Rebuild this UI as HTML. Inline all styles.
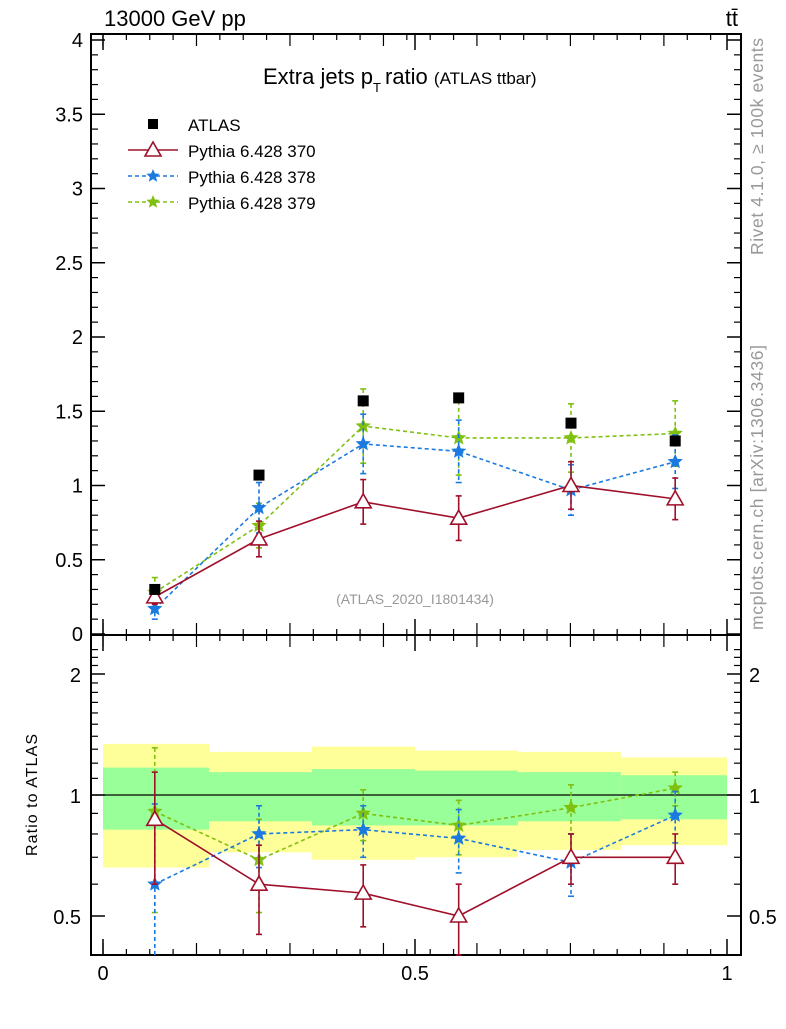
<!DOCTYPE html>
<html><head><meta charset="utf-8"><style>
body{margin:0;background:#fff;}
svg text{font-family:"Liberation Sans",sans-serif;}
</style></head><body>
<svg id="c" width="786" height="1024" xmlns="http://www.w3.org/2000/svg"></svg>
<script>
const categories=[0.083,0.25,0.417,0.57,0.75,0.917];
const binEdges=[0,0.17,0.335,0.5,0.665,0.83,1];
const atlas=[0.30,1.07,1.57,1.59,1.42,1.30];
const s370=[0.25,0.64,0.89,0.78,1.00,0.91];
const e370=[0.05,0.12,0.15,0.15,0.16,0.14];
const s378=[0.17,0.85,1.28,1.23,0.97,1.16];
const e378=[0.07,0.17,0.20,0.21,0.17,0.18];
const s379=[0.28,0.73,1.40,1.32,1.32,1.35];
const e379=[0.10,0.15,0.25,0.25,0.23,0.22];
const r370=[0.87,0.60,0.57,0.50,0.70,0.70];
const re370=[0.27,0.15,0.10,0.10,0.10,0.10];
const r378=[0.60,0.80,0.82,0.78,0.68,0.89];
const re378=[0.35,0.14,0.12,0.14,0.12,0.13];
const r379=[0.91,0.69,0.90,0.84,0.93,1.04];
const re379=[0.40,0.18,0.13,0.13,0.13,0.10];
const yelHi=[1.34,1.28,1.32,1.29,1.28,1.24];
const yelLo=[0.66,0.72,0.69,0.70,0.73,0.75];
const grnHi=[1.17,1.14,1.16,1.15,1.14,1.12];
const grnLo=[0.82,0.86,0.84,0.84,0.86,0.87];
const yTicks=[0,0.5,1,1.5,2,2.5,3,3.5,4];
const yTickLabels=["0","0.5","1","1.5","2","2.5","3","3.5","4"];
const rTicks=[0.5,1,2];
const xTicks=[0,0.5,1];

const svg=document.getElementById('c');
const NS='http://www.w3.org/2000/svg';
const L=91,R=741,T=34,M=635,B=955;
const X=v=>103+624*v;
const Y=v=>634-148.5*v;
const RY=v=>795-121*Math.log2(v);
function el(t,a,p){const e=document.createElementNS(NS,t);for(const k in a)e.setAttribute(k,a[k]);(p||svg).appendChild(e);return e;}
function txt(x,y,s,a){const e=el('text',Object.assign({x:x,y:y},a||{}));e.textContent=s;return e;}

for(let i=0;i<6;i++){
 const b=el('rect',{x:X(binEdges[i]),y:RY(yelHi[i]),width:X(binEdges[i+1])-X(binEdges[i]),height:RY(yelLo[i])-RY(yelHi[i]),fill:'#ffff99'});
 
 
 const g=el('rect',{x:X(binEdges[i]),y:RY(grnHi[i]),width:X(binEdges[i+1])-X(binEdges[i]),height:RY(grnLo[i])-RY(grnHi[i]),fill:'#99ff99'});
 
 
}
el('line',{x1:L,x2:R,y1:RY(1),y2:RY(1),stroke:'#000','stroke-width':1.2});

el('rect',{x:L,y:T,width:R-L,height:M-T,fill:'none',stroke:'#000','stroke-width':2});
el('rect',{x:L,y:M,width:R-L,height:B-M,fill:'none',stroke:'#000','stroke-width':2});

yTicks.forEach((v,i)=>{
 el('line',{x1:L,x2:L+14,y1:Y(v),y2:Y(v),stroke:'#000','stroke-width':1.5});
 el('line',{x1:R,x2:R-14,y1:Y(v),y2:Y(v),stroke:'#000','stroke-width':1.5});
 const t=txt(L-8,Y(v)+7,yTickLabels[i],{'font-size':20,'text-anchor':'end'});
 
 
});
for(let v=0.1;v<4;v+=0.1){if(Math.abs(v*2-Math.round(v*2))<0.01)continue;
 el('line',{x1:L,x2:L+7,y1:Y(v),y2:Y(v),stroke:'#000','stroke-width':1.2});
 el('line',{x1:R,x2:R-7,y1:Y(v),y2:Y(v),stroke:'#000','stroke-width':1.2});}
rTicks.forEach(v=>{
 el('line',{x1:L,x2:L+14,y1:RY(v),y2:RY(v),stroke:'#000','stroke-width':1.5});
 el('line',{x1:R,x2:R-14,y1:RY(v),y2:RY(v),stroke:'#000','stroke-width':1.5});
 txt(L-10,RY(v)+8,String(v),{'font-size':20,'text-anchor':'end'});
 txt(R+8,RY(v)+8,String(v),{'font-size':20});
});
[0.4,0.6,0.7,0.8,0.9,1.1,1.2,1.3,1.4,1.5,1.6,1.7,1.8,1.9,2.1,2.2,2.3].forEach(v=>{
 if(RY(v)<M||RY(v)>B)return;
 el('line',{x1:L,x2:L+7,y1:RY(v),y2:RY(v),stroke:'#000','stroke-width':1.2});
 el('line',{x1:R,x2:R-7,y1:RY(v),y2:RY(v),stroke:'#000','stroke-width':1.2});});
for(let k=0;k<=27;k++){const v=k/26.7;if(v>1.01)break;const x=X(v);
 const len=(k%4==0)?12:6;
 [T,M].forEach(y0=>el('line',{x1:x,x2:x,y1:y0,y2:y0+len,stroke:'#000','stroke-width':1.2}));
 [M,B].forEach(y0=>el('line',{x1:x,x2:x,y1:y0,y2:y0-len,stroke:'#000','stroke-width':1.2}));}
xTicks.forEach(v=>{
 [T,M].forEach(y0=>el('line',{x1:X(v),x2:X(v),y1:y0,y2:y0+16,stroke:'#000','stroke-width':1.5}));
 [M,B].forEach(y0=>el('line',{x1:X(v),x2:X(v),y1:y0,y2:y0-16,stroke:'#000','stroke-width':1.5}));
 const t=txt(X(v),980,String(v),{'font-size':20,'text-anchor':'middle'});
 
 
});

txt(104,26,'13000 GeV pp',{'font-size':22});
txt(738,26,'tt̄',{'font-size':22,'text-anchor':'end'});
const ti=el('text',{x:263,y:84,'font-size':22});


ti.innerHTML='Extra jets p<tspan font-size="13" dy="8">T</tspan><tspan dy="-8" dx="4">ratio </tspan><tspan font-size="17">(ATLAS ttbar)</tspan>';
txt(415,604,'(ATLAS_2020_I1801434)',{'font-size':14,'text-anchor':'middle',fill:'#999'});
txt(0,0,'Rivet 4.1.0, ≥ 100k events',{'font-size':17.5,fill:'#999',transform:'translate(763,255) rotate(-90)',textLength:217});
txt(0,0,'mcplots.cern.ch [arXiv:1306.3436]',{'font-size':17.5,fill:'#999',transform:'translate(763,630) rotate(-90)',textLength:285});
txt(0,0,'Ratio to ATLAS',{'font-size':16,'text-anchor':'middle',transform:'translate(37,795) rotate(-90)',textLength:122});

function star(x,y,c,r){let p='';for(let i=0;i<10;i++){const a=-Math.PI/2+i*Math.PI/5,rr=i%2?r*0.45:r;p+=(x+rr*Math.cos(a))+','+(y+rr*Math.sin(a))+' ';}
 return el('polygon',{points:p,fill:c,stroke:c,'stroke-width':0.8});}
function tri(x,y,c){return el('polygon',{points:`${x},${y-8} ${x-8},${y+6} ${x+8},${y+6}`,fill:'#fff',stroke:c,'stroke-width':1.6});}
function series(vals,errs,yf,color,dash,kind,name){
 const pts=categories.map((c,i)=>X(c)+','+yf(vals[i])).join(' ');
 const pl=el('polyline',{points:pts,fill:'none',stroke:color,'stroke-width':1.6,'stroke-dasharray':dash||''});
 
 
 categories.forEach((c,i)=>{const x=X(c);
  let y1=yf(vals[i]+errs[i]),lo=vals[i]-errs[i];let y2=lo>0?yf(lo):9999;
  y2=Math.min(y2,yf===Y?M:B);
  el('line',{x1:x,x2:x,y1:y1,y2:y2,stroke:color,'stroke-width':1.6,'stroke-dasharray':dash||''});
  el('line',{x1:x-3,x2:x+3,y1:y1,y2:y1,stroke:color,'stroke-width':1.6});
  if(y2<(yf===Y?M:B))el('line',{x1:x-3,x2:x+3,y1:y2,y2:y2,stroke:color,'stroke-width':1.6});
  const m=kind=='tri'?tri(x,yf(vals[i]),color):star(x,yf(vals[i]),color,7);
  
  
 });
}
series(s379,e379,Y,'#80c010','4,3','star','p379');
series(s378,e378,Y,'#1a7ae0','4,3','star','p378');
series(s370,e370,Y,'#a0102a','','tri','p370');
atlas.forEach((v,i)=>{const r=el('rect',{x:X(categories[i])-5.5,y:Y(v)-5.5,width:11,height:11,fill:'#000'});
 
 });
series(r379,re379,RY,'#80c010','4,3','star','ratio379');
series(r378,re378,RY,'#1a7ae0','4,3','star','ratio378');
series(r370,re370,RY,'#a0102a','','tri','ratio370');

const lg=el('g',{});
el('rect',{x:148,y:119,width:10,height:10,fill:'#000'},lg);
txt(188,131,'ATLAS',{'font-size':17});
const ly=[150,176,202],lc=['#a0102a','#1a7ae0','#80c010'],ln=['Pythia 6.428 370','Pythia 6.428 378','Pythia 6.428 379'];
ly.forEach((y,i)=>{el('line',{x1:128,x2:178,y1:y,y2:y,stroke:lc[i],'stroke-width':1.6,'stroke-dasharray':i?'4,3':''},lg);
 if(i==0)tri(153,y,lc[i]);else star(153,y,lc[i],6);
 txt(188,y+7,ln[i],{'font-size':17});});
</script>
</body></html>
